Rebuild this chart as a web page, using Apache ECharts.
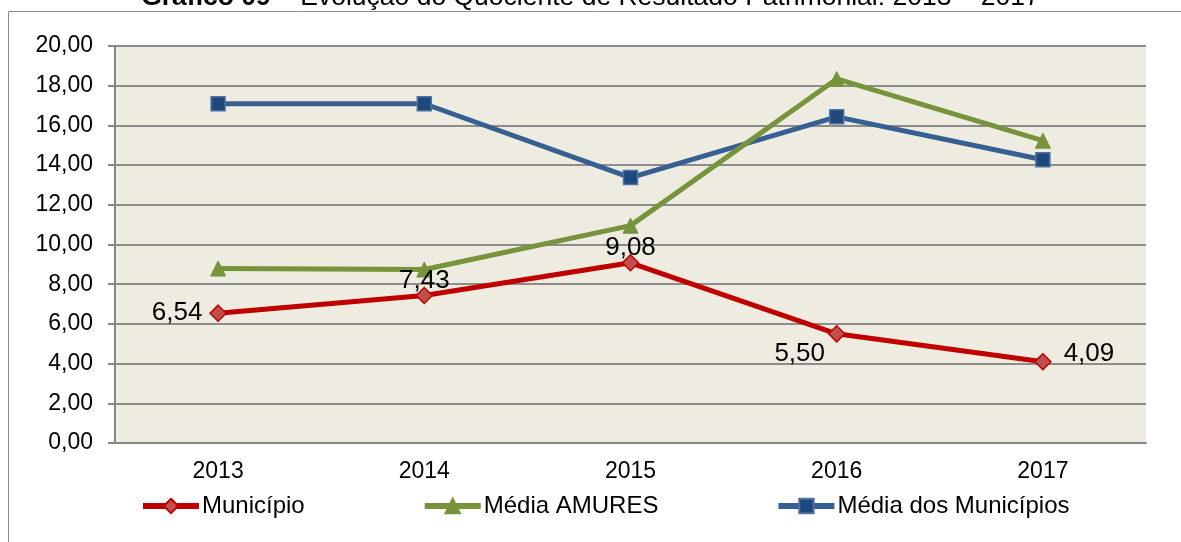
<!DOCTYPE html>
<html>
<head>
<meta charset="utf-8">
<script src="https://cdn.jsdelivr.net/npm/echarts@6/dist/echarts.min.js"></script>
<style>
html,body{margin:0;padding:0;background:#fff;}
#chart{width:1181px;height:542px;}
</style>
</head>
<body>
<div id="chart"></div>
<script>
const categories = ['2013', '2014', '2015', '2016', '2017'];
const municipio = [6.54, 7.43, 9.08, 5.50, 4.09];
const mediaAmures = [8.79, 8.74, 10.95, 18.34, 15.23];
const mediaMunicipios = [17.09, 17.09, 13.37, 16.43, 14.27];
const seriesNames = ['Município', 'Média AMURES', 'Média dos Municípios'];
const titleBold = 'Gráfico 09';
const titleRest = ' – Evolução do Quociente de Resultado Patrimonial: 2013 – 2017';

const fmt = v => v.toFixed(2).replace('.', ',');
const FONT = '"Liberation Sans", Arial, sans-serif';

const labelPos = [
  {position: 'left', distance: 7},
  {position: 'top', distance: -7},
  {position: 'top', distance: -7},
  {position: 'bottom', offset: [-37, -2], distance: 0},
  {position: 'right', offset: [0, -8], distance: 12}
];

const chart = echarts.init(document.getElementById('chart'), null, {renderer: 'canvas'});
chart.setOption({
  backgroundColor: '#ffffff',
  animation: false,
  textStyle: {fontFamily: FONT},
  title: {
    text: '{b|' + titleBold + '}{n|' + titleRest + '}',
    left: 'center',
    top: -21,
    textStyle: {
      rich: {
        b: {fontFamily: FONT, fontSize: 26.5, fontWeight: 'bold', color: '#000'},
        n: {fontFamily: FONT, fontSize: 26.5, fontWeight: 'normal', color: '#000'}
      }
    }
  },
  graphic: [
    {type: 'polyline', shape: {points: [[8.5, 542], [8.5, 11.5], [1181, 11.5]]},
     style: {stroke: '#8c8c8c', lineWidth: 1, fill: null}, silent: true}
  ],
  grid: {
    left: 115, right: 35, top: 46, bottom: 99,
    show: true, backgroundColor: '#EEEBE0', borderWidth: 0
  },
  legend: {
    data: seriesNames,
    left: 140, top: 494, padding: 0,
    itemWidth: 56, itemHeight: 18, itemGap: 117,
    lineStyle: {width: 6},
    textStyle: {fontFamily: FONT, fontSize: 24, color: '#000', padding: [0, 0, 0, -2]}
  },
  xAxis: {
    type: 'category',
    data: categories,
    boundaryGap: true,
    axisLine: {show: true, lineStyle: {color: '#868686', width: 2}},
    axisTick: {show: false},
    axisLabel: {fontFamily: FONT, fontSize: 23, color: '#000', margin: 17}
  },
  yAxis: {
    type: 'value',
    min: 0, max: 20, interval: 2,
    axisLine: {show: true, lineStyle: {color: '#868686', width: 2}},
    axisTick: {show: true, length: 7, lineStyle: {color: '#868686', width: 2}},
    splitLine: {show: true, lineStyle: {color: '#8C8C8C', width: 2}},
    axisLabel: {fontFamily: FONT, fontSize: 23, color: '#000', margin: 22, formatter: v => fmt(v)}
  },
  series: [
    {
      name: seriesNames[0], type: 'line',
      data: municipio.map((v, i) => ({
        value: v,
        label: Object.assign({show: true, formatter: p => fmt(p.value), fontFamily: FONT, fontSize: 26, color: '#000'}, labelPos[i])
      })),
      symbol: 'diamond', symbolSize: 16, z: 5,
      lineStyle: {color: '#C00000', width: 5},
      itemStyle: {color: '#C0504D', borderColor: '#C00000', borderWidth: 1.5}
    },
    {
      name: seriesNames[1], type: 'line', data: mediaAmures,
      symbol: 'triangle', symbolSize: 15, z: 4,
      lineStyle: {color: '#77933C', width: 5},
      itemStyle: {color: '#77933C', borderColor: '#77933C', borderWidth: 1}
    },
    {
      name: seriesNames[2], type: 'line', data: mediaMunicipios,
      symbol: 'rect', symbolSize: 14, z: 3,
      lineStyle: {color: '#376092', width: 5},
      itemStyle: {color: '#1F497D', borderColor: '#4F72A3', borderWidth: 1.5}
    }
  ]
});
</script>
</body>
</html>
